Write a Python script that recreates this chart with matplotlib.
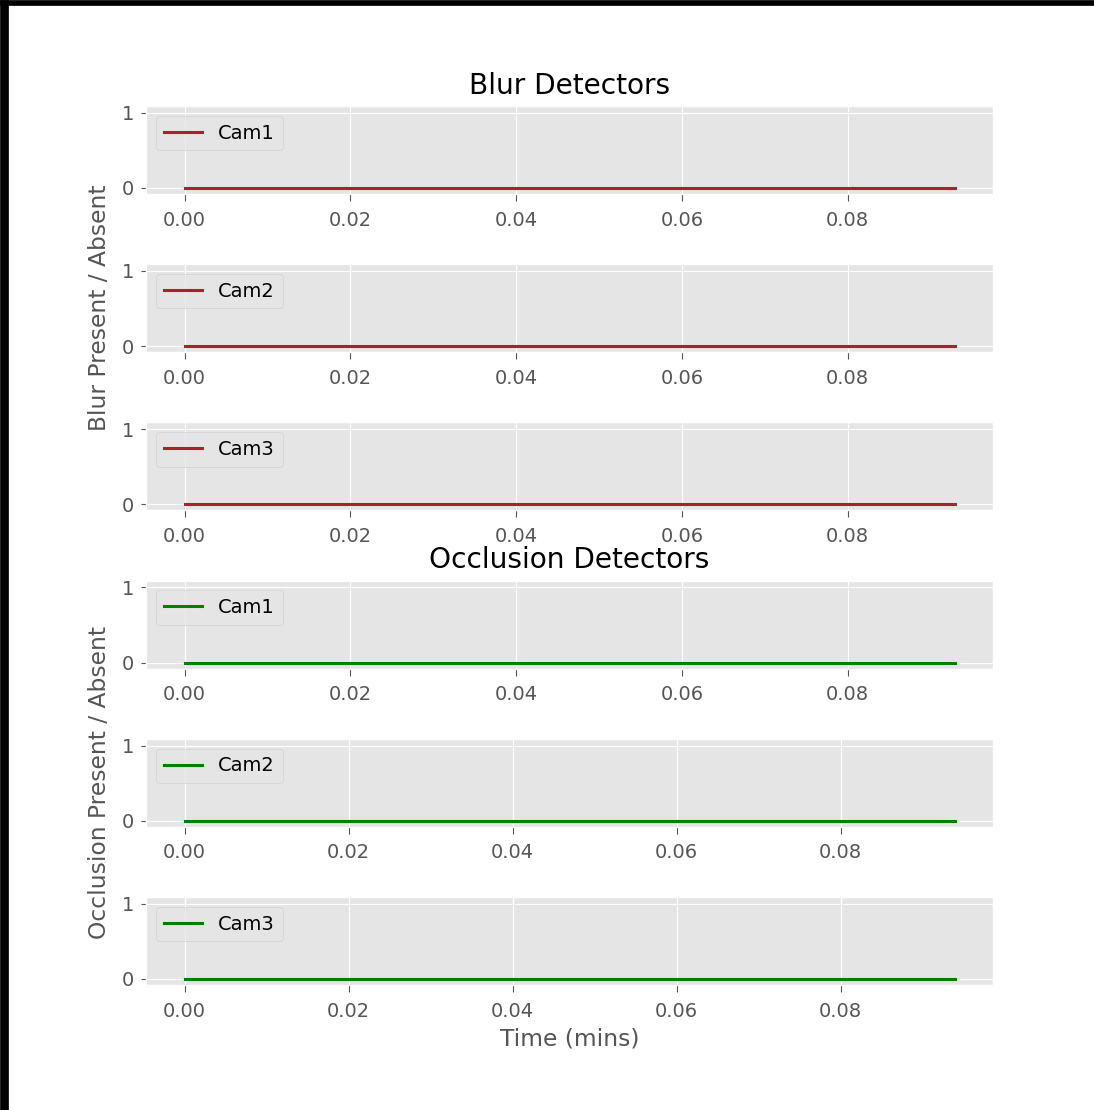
import matplotlib
matplotlib.use('Agg')
import matplotlib.pyplot as plt
from matplotlib.patches import Rectangle

# time (mins) and detector state per camera
blur_time = [0.0, 0.0929]
blur_cam1 = [0, 0]
blur_cam2 = [0, 0]
blur_cam3 = [0, 0]

occl_time_cam1 = [0.0, 0.0929]
occl_time = [0.0, 0.0939]
occl_cam1 = [0, 0]
occl_cam2 = [0, 0]
occl_cam3 = [0, 0]

cam_labels = ['Cam1', 'Cam2', 'Cam3']

plt.style.use('ggplot')
plt.rcParams['font.size'] = 14
plt.rcParams['xtick.major.pad'] = 7
plt.rcParams['xtick.major.size'] = 5
plt.rcParams['ytick.major.pad'] = 5

fig, axes = plt.subplots(6, 1, figsize=(10.94, 11.1), dpi=100)
fig.subplots_adjust(left=0.1335, right=0.9077, top=0.9045, bottom=0.1126, hspace=0.798)

blur_color = '#a8222e'
occl_color = '#008000'

series = [
    (blur_time, blur_cam1, blur_color),
    (blur_time, blur_cam2, blur_color),
    (blur_time, blur_cam3, blur_color),
    (occl_time_cam1, occl_cam1, occl_color),
    (occl_time, occl_cam2, occl_color),
    (occl_time, occl_cam3, occl_color),
]

for i, (ax, (t, v, c)) in enumerate(zip(axes, series)):
    ax.plot(t, v, color=c, linewidth=2.2, label=cam_labels[i % 3])
    ax.set_ylim(-0.08, 1.09)
    ax.set_yticks([0, 1])
    ax.legend(loc='upper left')

axes[0].set_title('Blur Detectors', pad=9)
axes[3].set_title('Occlusion Detectors', pad=9)
axes[1].set_ylabel('Blur Present / Absent', labelpad=8)
axes[4].set_ylabel('Occlusion Present / Absent', labelpad=8)
axes[5].set_xlabel('Time (mins)', labelpad=5)

# screenshot frame edges
fig.add_artist(Rectangle((0, 0), 8 / 1094, 1, transform=fig.transFigure, color='black', zorder=10))
fig.add_artist(Rectangle((0, 1 - 5 / 1110), 1, 5 / 1110, transform=fig.transFigure, color='black', zorder=10))

plt.savefig('out.png', dpi=100)
plt.close()
